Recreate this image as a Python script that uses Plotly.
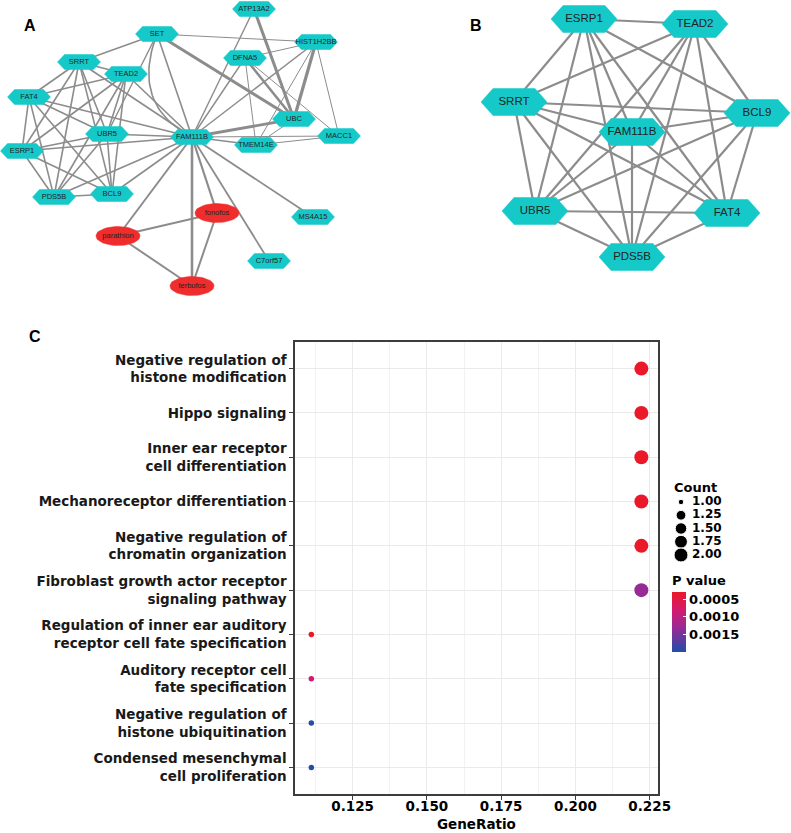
import math
import plotly.graph_objects as go

# ---------------- Panel C: GO enrichment dot plot ----------------
terms = [
    "Negative regulation of<br>histone modification",
    "Hippo signaling",
    "Inner ear receptor<br>cell differentiation",
    "Mechanoreceptor differentiation",
    "Negative regulation of<br>chromatin organization",
    "Fibroblast growth actor receptor<br>signaling pathway",
    "Regulation of inner ear auditory<br>receptor cell fate specification",
    "Auditory receptor cell<br>fate specification",
    "Negative regulation of<br>histone ubiquitination",
    "Condensed mesenchymal<br>cell proliferation",
]
gene_ratio = [0.2222, 0.2222, 0.2222, 0.2222, 0.2222, 0.2222, 0.1111, 0.1111, 0.1111, 0.1111]
counts = [2, 2, 2, 2, 2, 2, 1, 1, 1, 1]
p_values = [0.00031, 0.00031, 0.00031, 0.00031, 0.00031, 0.00132, 0.00031, 0.00081, 0.00199, 0.00199]
p_min, p_max = 0.00030, 0.00200
x_ticks = [0.125, 0.150, 0.175, 0.200, 0.225]
x_tick_labels = ["0.125", "0.150", "0.175", "0.200", "0.225"]
x_minor = [0.1125, 0.1375, 0.1625, 0.1875, 0.2125]
count_levels = [1.00, 1.25, 1.50, 1.75, 2.00]
count_labels = ["1.00", "1.25", "1.50", "1.75", "2.00"]
p_ticks = [0.0005, 0.0010, 0.0015]
p_tick_labels = ["0.0005", "0.0010", "0.0015"]

# ---------------- Panel A: PPI / chemical network ----------------
netA_nodes = ["ATP13A2", "HIST1H2BB", "SET", "DFNA5", "SRRT", "TEAD2", "FAT4", "UBC", "MACC1",
              "UBR5", "FAM111B", "TMEM14E", "ESRP1", "PDS5B", "BCL9", "MS4A15", "C7orf57",
              "fonofos", "parathion", "terbufos"]
netA_x = [254, 316, 157, 245, 79, 126, 29, 294, 339, 107, 192, 256, 22, 54, 112, 313, 269, 217, 118, 192]
netA_y = [9, 42, 34, 58, 62, 74, 97, 119, 136, 134, 137, 145, 151, 197, 194, 217, 261, 213, 236, 286]
netA_kind = ["gene"] * 17 + ["chemical"] * 3
netA_edges = [
    # core cluster
    ("FAM111B", "ESRP1", 1.6), ("FAM111B", "TEAD2", 1.6), ("FAM111B", "SRRT", 1.6), ("FAM111B", "BCL9", 1.6),
    ("FAM111B", "UBR5", 1.6), ("FAM111B", "FAT4", 1.6), ("FAM111B", "PDS5B", 1.6),
    ("ESRP1", "TEAD2", 1.6), ("ESRP1", "SRRT", 1.6), ("ESRP1", "BCL9", 1.6), ("ESRP1", "UBR5", 1.6),
    ("ESRP1", "FAT4", 1.6), ("ESRP1", "PDS5B", 1.6),
    ("TEAD2", "SRRT", 1.6), ("TEAD2", "BCL9", 1.6), ("TEAD2", "UBR5", 1.6), ("TEAD2", "FAT4", 1.6),
    ("TEAD2", "PDS5B", 1.6),
    ("SRRT", "BCL9", 1.6), ("SRRT", "UBR5", 1.6), ("SRRT", "FAT4", 1.6), ("SRRT", "PDS5B", 1.6),
    ("BCL9", "UBR5", 1.6), ("BCL9", "FAT4", 1.6), ("BCL9", "PDS5B", 1.6),
    ("UBR5", "FAT4", 1.6), ("UBR5", "PDS5B", 1.6), ("FAT4", "PDS5B", 1.6),
    # SET and UBC neighbourhood
    ("SET", "SRRT", 1.4), ("SET", "UBR5", 1.4), ("SET", "FAM111B", 1.6), ("SET", "HIST1H2BB", 1.0),
    ("SET", "UBC", 3.0),
    ("ATP13A2", "UBC", 3.0), ("ATP13A2", "FAM111B", 1.4),
    ("HIST1H2BB", "UBC", 3.2), ("HIST1H2BB", "DFNA5", 1.0), ("HIST1H2BB", "MACC1", 1.0),
    ("HIST1H2BB", "FAM111B", 1.4), ("HIST1H2BB", "TMEM14E", 1.0),
    ("DFNA5", "UBC", 2.6), ("DFNA5", "FAM111B", 1.4), ("DFNA5", "TMEM14E", 1.0), ("DFNA5", "MACC1", 1.0),
    ("UBC", "FAM111B", 2.8), ("UBC", "TMEM14E", 1.0),
    ("MACC1", "FAM111B", 1.0), ("MACC1", "TMEM14E", 1.0), ("TMEM14E", "FAM111B", 1.6),
    # peripheral genes and chemicals
    ("FAM111B", "MS4A15", 1.8), ("FAM111B", "C7orf57", 1.8),
    ("FAM111B", "fonofos", 2.2), ("FAM111B", "parathion", 2.0), ("FAM111B", "terbufos", 2.6),
    ("fonofos", "parathion", 2.0), ("fonofos", "terbufos", 2.0), ("parathion", "terbufos", 2.0),
]
netA_curved = [("SET", "FAM111B", 1.6, 130, 105)]

# ---------------- Panel B: hub gene network ----------------
netB_nodes = ["ESRP1", "TEAD2", "SRRT", "BCL9", "FAM111B", "UBR5", "FAT4", "PDS5B"]
netB_x = [584, 695, 514, 757, 632, 535, 727, 632]
netB_y = [19, 24, 102, 113, 132, 211, 213, 257]
netB_edges = [
    ("ESRP1", "TEAD2"), ("ESRP1", "SRRT"), ("ESRP1", "BCL9"), ("ESRP1", "FAM111B"), ("ESRP1", "UBR5"),
    ("ESRP1", "FAT4"), ("ESRP1", "PDS5B"),
    ("TEAD2", "SRRT"), ("TEAD2", "BCL9"), ("TEAD2", "FAM111B"), ("TEAD2", "UBR5"), ("TEAD2", "FAT4"),
    ("TEAD2", "PDS5B"),
    ("SRRT", "BCL9"), ("SRRT", "FAM111B"), ("SRRT", "UBR5"), ("SRRT", "FAT4"), ("SRRT", "PDS5B"),
    ("BCL9", "FAM111B"), ("BCL9", "UBR5"), ("BCL9", "FAT4"), ("BCL9", "PDS5B"),
    ("FAM111B", "UBR5"), ("FAM111B", "FAT4"), ("FAM111B", "PDS5B"),
    ("UBR5", "FAT4"), ("UBR5", "PDS5B"), ("FAT4", "PDS5B"),
]

W, H = 791, 833
TEAL = "rgb(22,201,201)"
RED_NODE = "rgb(240,45,45)"
EDGE = "rgb(140,140,140)"
FONT = "Liberation Sans, Arial, sans-serif"
CFONT = "DejaVu Sans, Liberation Sans, sans-serif"

fig = go.Figure()
NA = dict(xaxis="x2", yaxis="y2")


def hexagon(cx, cy, hw, hh, d):
    xs = [cx - hw, cx - hw + d, cx + hw - d, cx + hw, cx + hw - d, cx - hw + d, cx - hw]
    ys = [cy, cy - hh, cy - hh, cy, cy + hh, cy + hh, cy]
    return xs, ys


def ellipse(cx, cy, rx, ry, n=48):
    xs = [cx + rx * math.cos(2 * math.pi * i / n) for i in range(n + 1)]
    ys = [cy + ry * math.sin(2 * math.pi * i / n) for i in range(n + 1)]
    return xs, ys


def draw_network(nodes, xs, ys, edges, kinds, hw, hh, d, fsize, curved=()):
    pos = {n: (x, y) for n, x, y in zip(nodes, xs, ys)}
    for a, b, w in edges:
        fig.add_trace(go.Scatter(x=[pos[a][0], pos[b][0]], y=[pos[a][1], pos[b][1]], mode="lines",
                                 line=dict(color=EDGE, width=w), hoverinfo="skip", showlegend=False, **NA))
    for a, b, w, qx, qy in curved:
        (x0, y0), (x1, y1) = pos[a], pos[b]
        tt = [i / 30 for i in range(31)]
        cxs = [(1 - t) ** 2 * x0 + 2 * (1 - t) * t * qx + t ** 2 * x1 for t in tt]
        cys = [(1 - t) ** 2 * y0 + 2 * (1 - t) * t * qy + t ** 2 * y1 for t in tt]
        fig.add_trace(go.Scatter(x=cxs, y=cys, mode="lines", line=dict(color=EDGE, width=w),
                                 hoverinfo="skip", showlegend=False, **NA))
    for n, k in zip(nodes, kinds):
        cx, cy = pos[n]
        if k == "gene":
            px, py = hexagon(cx, cy, hw, hh, d)
            col = TEAL
        else:
            px, py = ellipse(cx, cy, 22, 9.5)
            col = RED_NODE
        fig.add_trace(go.Scatter(x=px, y=py, mode="lines", fill="toself", fillcolor=col,
                                 line=dict(color=col, width=0.5), hoverinfo="skip", showlegend=False, **NA))
    fig.add_trace(go.Scatter(x=xs, y=ys, mode="text", text=nodes,
                             textfont=dict(family=FONT, size=fsize, color="rgb(35,35,35)"),
                             hoverinfo="skip", showlegend=False, **NA))


draw_network(netA_nodes, netA_x, netA_y, netA_edges, netA_kind, 21.5, 7.5, 7, 7.5, netA_curved)
draw_network(netB_nodes, netB_x, netB_y, [(a, b, 2.2) for a, b in netB_edges], ["gene"] * len(netB_nodes),
             33, 13.5, 12, 11.5)


def size_px(v):
    return 5.5 + 8.5 * math.sqrt(v - 1)


colorscale = [[0.0, "rgb(33,78,168)"], [0.4, "rgb(152,42,150)"], [0.7, "rgb(212,26,112)"],
              [1.0, "rgb(234,24,40)"]]
bold13 = dict(family=CFONT, size=13, color="black", weight="bold")

fig.add_trace(go.Scatter(
    x=gene_ratio, y=terms, mode="markers",
    marker=dict(size=[size_px(c) for c in counts], color=[-p for p in p_values], opacity=1,
                colorscale=colorscale, cmin=-p_max, cmax=-p_min, line=dict(width=0),
                colorbar=dict(
                    title=dict(text="<b>P value</b>", side="top", font=dict(family=CFONT, size=13, color="black")),
                    tickvals=[-t for t in p_ticks], ticktext=p_tick_labels,
                    tickfont=bold13,
                    ticks="inside", ticklen=3, tickcolor="white",
                    thickness=14, len=80, lenmode="pixels",
                    x=672 / W, xanchor="left", y=1 - 572 / H, yanchor="top",
                    xpad=0, ypad=0, outlinewidth=0)),
    hoverinfo="skip", showlegend=False))

# Count size legend
fig.add_trace(go.Scatter(x=[11] * len(count_levels), y=count_levels, mode="markers",
                         marker=dict(size=[size_px(v) for v in count_levels], color="black", opacity=1),
                         xaxis="x4", yaxis="y4", hoverinfo="skip", showlegend=False))
fig.add_trace(go.Scatter(x=[22] * len(count_levels), y=count_levels, mode="text", text=count_labels,
                         textposition="middle right",
                         textfont=dict(family=CFONT, size=12, color="black", weight="bold"),
                         xaxis="x4", yaxis="y4", hoverinfo="skip", showlegend=False))

hidden = dict(visible=False, showgrid=False, zeroline=False, fixedrange=True)
fig.update_layout(
    width=W, height=H, margin=dict(l=0, r=0, t=0, b=0, autoexpand=False),
    paper_bgcolor="white", plot_bgcolor="white",
    font=dict(family=FONT, color="black"),
    xaxis=dict(domain=[295 / W, 658 / W], range=[0.1056, 0.2278], tickvals=x_ticks, ticktext=x_tick_labels,
               tickfont=dict(family=CFONT, size=13.5, color="black", weight="bold"),
               ticks="outside", ticklen=4, tickcolor="rgb(60,60,60)", tickwidth=1.2,
               ticklabelstandoff=-5,
               showgrid=True, gridcolor="rgb(234,234,234)", gridwidth=1,
               minor=dict(tickvals=x_minor, showgrid=True, gridcolor="rgb(242,242,242)", gridwidth=0.8),
               showline=True, linecolor="rgb(60,60,60)", linewidth=1.5, mirror=True, zeroline=False,
               automargin=False),
    yaxis=dict(domain=[1 - 794 / H, 1 - 342 / H], type="category", categoryorder="array", categoryarray=terms,
               range=[9.6, -0.6],
               tickfont=dict(family=CFONT, size=13.5, color="rgb(25,25,25)", weight="bold"),
               ticks="outside", ticklen=4, tickcolor="rgb(60,60,60)", tickwidth=1.2,
               showgrid=True, gridcolor="rgb(234,234,234)", gridwidth=1,
               showline=True, linecolor="rgb(60,60,60)", linewidth=1.5, mirror=True, zeroline=False,
               automargin=False),
    xaxis2=dict(domain=[0, 1], range=[0, W], anchor="y2", **hidden),
    yaxis2=dict(domain=[1 - 310 / H, 1], range=[310, 0], anchor="x2", **hidden),
    xaxis4=dict(domain=[670 / W, 760 / W], range=[0, 90], anchor="y4", **hidden),
    yaxis4=dict(domain=[1 - 581.5 / H, 1 - 475.5 / H], range=[2.5, 0.5], anchor="x4", **hidden),
    annotations=[
        dict(text="<b>A</b>", x=22 / W, y=1 - 15 / H, xref="paper", yref="paper", showarrow=False,
             font=dict(family=FONT, size=16, color="black")),
        dict(text="<b>B</b>", x=476 / W, y=1 - 15 / H, xref="paper", yref="paper", showarrow=False,
             font=dict(family=FONT, size=16, color="black")),
        dict(text="<b>C</b>", x=27 / W, y=1 - 337 / H, xref="paper", yref="paper", showarrow=False,
             font=dict(family=FONT, size=16, color="black")),
        dict(text="<b>Count</b>", x=672 / W, y=1 - 487 / H, xref="paper", yref="paper", showarrow=False,
             xanchor="left", yanchor="middle", font=dict(family=CFONT, size=13, color="black")),
        dict(text="<b>GeneRatio</b>", x=476 / W, y=1 - 824 / H, xref="paper", yref="paper", showarrow=False,
             xanchor="center", yanchor="middle", font=dict(family=CFONT, size=13.5, color="black")),
    ],
)

fig.write_html("out.html", config={"displayModeBar": False},
               post_script="document.body.style.margin='0';")
